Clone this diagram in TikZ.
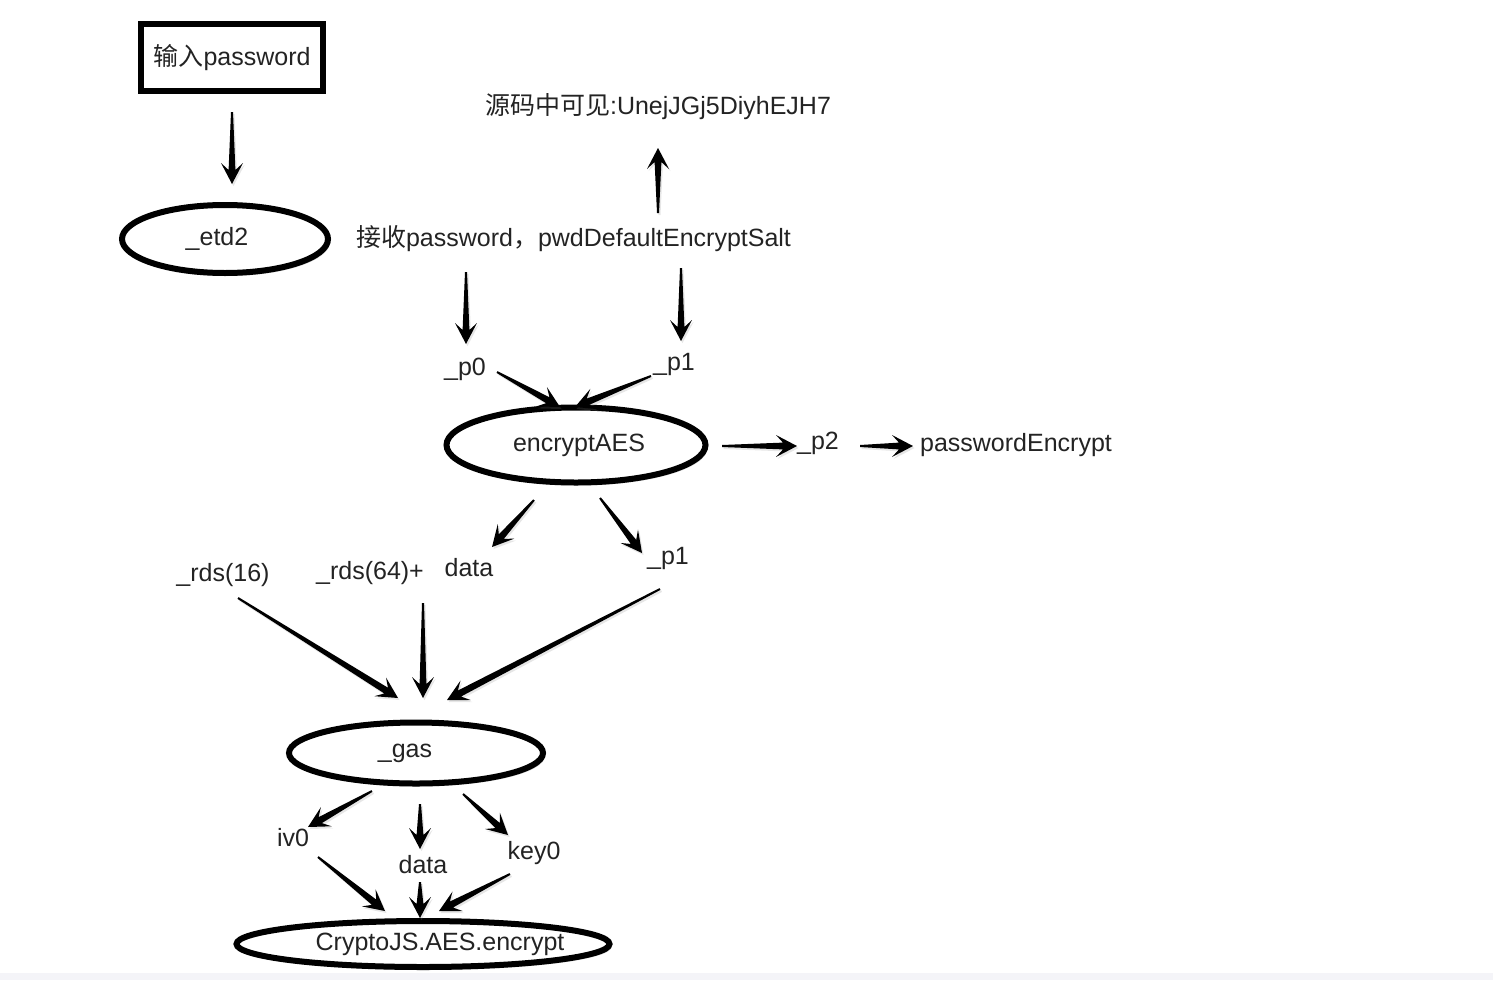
\documentclass[tikz,border=0pt]{standalone}
\usepackage{fontspec}
\setmainfont{Liberation Sans}
\newfontfamily\cjk{Noto Sans CJK SC}
\usetikzlibrary{arrows.meta,shapes.geometric,shadows,calc}
\definecolor{band}{RGB}{244,244,248}
\definecolor{ink}{RGB}{35,35,35}
% tapered arrow from #1 (tail) to #2 (tip)
\newcommand\tarrow[2]{%
  \coordinate (ta) at #1; \coordinate (tb) at #2;
  \fill[arrfill] ($(ta)!1pt!90:(tb)$)
    -- ($(tb)!14pt!(ta)!3.4pt!-90:(ta)$)
    -- ($(tb)!21pt!(ta)!11pt!-90:(ta)$)
    -- (tb)
    -- ($(tb)!21pt!(ta)!11pt!90:(ta)$)
    -- ($(tb)!14pt!(ta)!3.4pt!90:(ta)$)
    -- ($(ta)!1pt!-90:(tb)$) -- cycle;}
\begin{document}
\begin{tikzpicture}[x=1pt,y=-1pt,
  every node/.style={font=\fontsize{25}{30}\selectfont, text=ink, inner sep=0pt},
  every label/.style={font=\fontsize{25}{30}\selectfont, text=ink, inner sep=0pt},
  shd/.style={drop shadow={shadow xshift=2pt, shadow yshift=-3pt, opacity=0.3}},
  oval/.style={ellipse, draw, line width=6pt, fill=white, shd},
  inbox/.style={rectangle, draw, line width=6pt, fill=white, shd},
  arrfill/.style={black, drop shadow={shadow xshift=1.5pt, shadow yshift=-2pt, opacity=0.2}},
]
\useasboundingbox (0,0) rectangle (1493,980);
\fill[band] (0,973) rectangle (1493,980);

% nodes
\node[inbox, minimum width=182pt, minimum height=67pt] (inp) at (232,57.5) {{\cjk 输入}password};
\node[oval, minimum width=206pt, minimum height=68pt, label={[xshift=-8pt]center:\_etd2}] (etd2) at (225,239) {};
\node (recv) at (573.5,239) {{\cjk 接收}password{\cjk ，}pwdDefaultEncryptSalt};
\node (src) at (658,107) {{\cjk 源码中可见}:UnejJGj5DiyhEJH7};
\node (p0) at (465,369) {\_p0};
\node (p1a) at (674,364) {\_p1};
\node[oval, minimum width=259pt, minimum height=75pt, label={[xshift=3pt]center:encryptAES}] (enc) at (576,445) {};
\node (p2) at (818,443) {\_p2};
\node (pe) at (1016,445) {passwordEncrypt};
\node (data1) at (469,568) {data};
\node (p1b) at (668,558) {\_p1};
\node (rds16) at (223,575) {\_rds(16)};
\node (rds64) at (370,573) {\_rds(64)+};
\node[oval, minimum width=254pt, minimum height=61pt, label={[xshift=-11pt]center:\_gas}] (gas) at (416,753) {};
\node (iv0) at (293,838) {iv0};
\node (data2) at (423,865) {data};
\node (key0) at (534,853) {key0};
\node[oval, minimum width=373pt, minimum height=46pt, label={[xshift=17pt]center:CryptoJS.AES.encrypt}] (cjs) at (423,944) {};

% connectors
\tarrow{($(inp)+(0,54.5)$)}{($(etd2)+(7,-55)$)}
\tarrow{($(recv)+(84.5,-26)$)}{($(src)+(0,41)$)}
\tarrow{($(recv)+(-107.5,33)$)}{($(p0)+(1,-25)$)}
\tarrow{($(recv)+(107.5,29)$)}{($(p1a)+(7,-23)$)}
\tarrow{($(p0)+(32,3)$)}{($(enc)+(-16,-38)$)}
\tarrow{($(p1a)+(-23,12)$)}{($(enc)+(-1,-38)$)}
\tarrow{($(enc)+(146,1)$)}{($(p2)+(-21,3)$)}
\tarrow{($(p2)+(42,3)$)}{($(pe)+(-103,1)$)}
\tarrow{($(enc)+(-42,55)$)}{($(data1)+(23,-21)$)}
\tarrow{($(enc)+(24,53)$)}{($(p1b)+(-26,-5)$)}
\tarrow{($(rds16)+(15,23)$)}{($(gas)+(-18,-55)$)}
\tarrow{($(rds64)+(53,30)$)}{($(gas)+(7,-55)$)}
\tarrow{($(p1b)+(-8,31)$)}{($(gas)+(31,-53)$)}
\tarrow{($(gas)+(-44,38)$)}{($(iv0)+(15,-11)$)}
\tarrow{($(gas)+(4,51)$)}{($(data2)+(-3,-16)$)}
\tarrow{($(gas)+(47,41)$)}{($(key0)+(-26,-18)$)}
\tarrow{($(iv0)+(25,19)$)}{($(cjs)+(-38,-33)$)}
\tarrow{($(data2)+(-3,17)$)}{($(cjs)+(-3,-26)$)}
\tarrow{($(key0)+(-24,21)$)}{($(cjs)+(16,-33)$)}
\end{tikzpicture}
\end{document}
